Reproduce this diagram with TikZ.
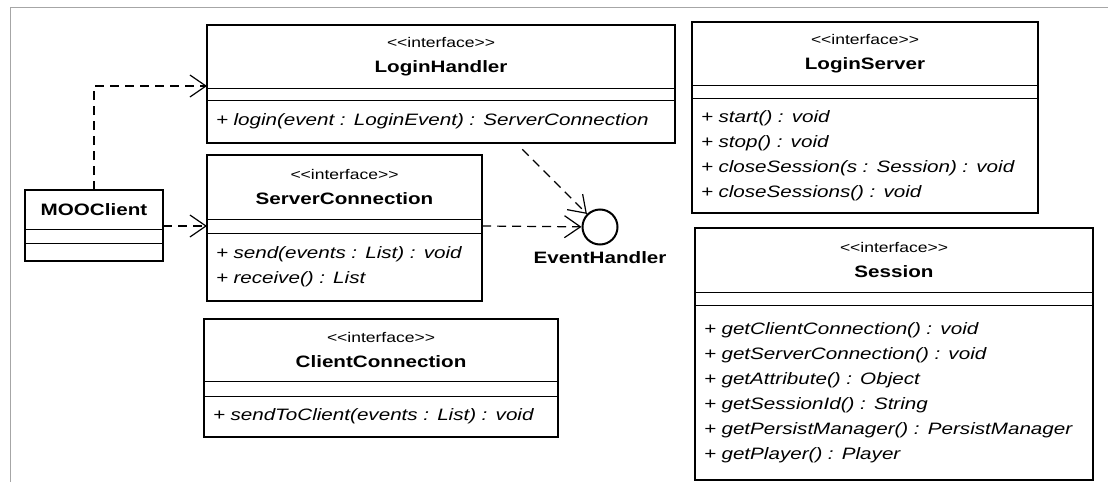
\documentclass[tikz,border=0pt]{standalone}
\usepackage{fontspec}
\setmainfont{Liberation Sans}[FakeStretch=1.25]
\usetikzlibrary{positioning}
\usetikzlibrary{arrows.meta}

\newcommand\stereo{{\fontsize{14pt}{25pt}\selectfont <{}<interface>{}>}}

\begin{document}
\begin{tikzpicture}[
  x=1pt, y=-1pt,
  font=\fontsize{16.5pt}{25pt}\selectfont,
  head/.style={draw,line width=.8pt,outer sep=0pt,inner sep=0pt,align=center,anchor=north west},
  attr/.style={draw,line width=.8pt,outer sep=0pt,inner sep=0pt},
  ops/.style={draw,line width=.8pt,outer sep=0pt,inner xsep=9pt,inner ysep=0pt,align=left,
    text width=#1,font=\fontsize{16.5pt}{25pt}\selectfont\itshape},
  clsline/.style={line width=2.4pt},
  iface/.style={draw,circle,line width=2pt,minimum size=35pt,inner sep=0pt},
  dep/.style={dash pattern=on 9pt off 6pt,line width=1.2pt,-{Straight Barb[length=16pt,width=22pt]}},
  pageframe/.style={gray!70,line width=.8pt}]

  \useasboundingbox (0,0) rectangle (1108,482);
  \draw[pageframe] (10,482) |- (1108,7);

  % client side
  \node[head,minimum width=138pt,minimum height=39pt] (mc) at (25,190) {\textbf{MOOClient}};
  \node[attr,minimum width=138pt,minimum height=14pt,below=0pt of mc] (mc-a) {};
  \node[attr,minimum width=138pt,minimum height=18pt,below=0pt of mc-a] (mc-o) {};
  \draw[clsline] (mc.north west) rectangle (mc-o.south east);

  \node[head,minimum width=468pt,minimum height=63pt] (lh) at (207,25) {\stereo\\\textbf{LoginHandler}};
  \node[attr,minimum width=468pt,minimum height=12pt,below=0pt of lh] (lh-a) {};
  \node[ops=450pt,minimum height=43pt,below=0pt of lh-a] (lh-o) {+ login(event : LoginEvent) : ServerConnection};
  \draw[clsline] (lh.north west) rectangle (lh-o.south east);

  \node[head,minimum width=275pt,minimum height=64pt] (sc) at (207,155) {\stereo\\\textbf{ServerConnection}};
  \node[attr,minimum width=275pt,minimum height=14pt,below=0pt of sc] (sc-a) {};
  \node[ops=257pt,minimum height=68pt,below=0pt of sc-a] (sc-o) {+ send(events : List) : void\\+ receive() : List};
  \draw[clsline] (sc.north west) rectangle (sc-o.south east);

  \node[head,minimum width=354pt,minimum height=62pt] (cc) at (204,319) {\stereo\\\textbf{ClientConnection}};
  \node[attr,minimum width=354pt,minimum height=15pt,below=0pt of cc] (cc-a) {};
  \node[ops=336pt,minimum height=41pt,below=0pt of cc-a] (cc-o) {+ sendToClient(events : List) : void};
  \draw[clsline] (cc.north west) rectangle (cc-o.south east);

  \node[iface] (eh) at (600,227) {};
  \node[below=3pt of eh] (eh-l) {\textbf{EventHandler}};

  % server side
  \node[head,minimum width=346pt,minimum height=63pt] (ls) at (692,22) {\stereo\\\textbf{LoginServer}};
  \node[attr,minimum width=346pt,minimum height=13pt,below=0pt of ls] (ls-a) {};
  \node[ops=328pt,minimum height=115pt,below=0pt of ls-a] (ls-o) {+ start() : void\\+ stop() : void\\+ closeSession(s : Session) : void\\+ closeSessions() : void};
  \draw[clsline] (ls.north west) rectangle (ls-o.south east);

  \node[head,minimum width=398pt,minimum height=64pt] (se) at (695,228) {\stereo\\\textbf{Session}};
  \node[attr,minimum width=398pt,minimum height=13pt,below=0pt of se] (se-a) {};
  \node[ops=380pt,minimum height=175pt,below=0pt of se-a] (se-o) {+ getClientConnection() : void\\+ getServerConnection() : void\\+ getAttribute() : Object\\+ getSessionId() : String\\+ getPersistManager() : PersistManager\\+ getPlayer() : Player};
  \draw[clsline] (se.north west) rectangle (se-o.south east);

  % dependencies
  \draw[dep] (mc.north) |- ([yshift=2pt]lh.south west);
  \draw[dep] (mc.east |- sc-a.west) -- (sc-a.west);
  \draw[dep] (sc-a.east) -- (eh);
  \draw[dep,shorten <=9pt] (lh-o.-16) -- (eh);
\end{tikzpicture}
\end{document}
